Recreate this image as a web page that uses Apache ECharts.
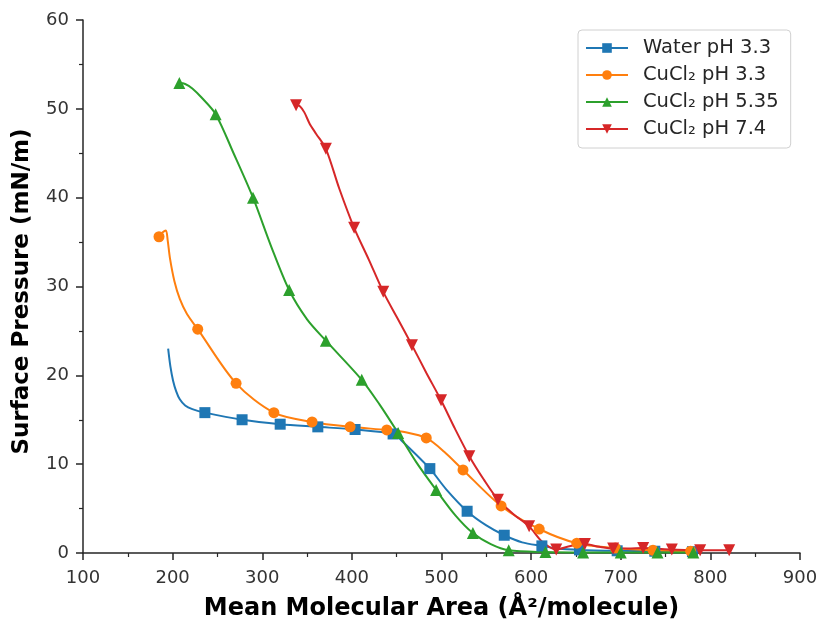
<!DOCTYPE html>
<html>
<head>
<meta charset="utf-8">
<script src="https://cdn.jsdelivr.net/npm/echarts@6/dist/echarts.min.js"></script>
<style>
  html, body { margin: 0; padding: 0; background: #fff; }
  #chart { width: 823px; height: 622px; }
</style>
</head>
<body>
<div id="chart"></div>
<script>
// curve points (no marker) and marker points
const waterLine = [[195, 23.0], [197.5, 21.0], [200.5, 19.4], [204, 18.2], [208, 17.3], [214, 16.6], [222, 16.2], [455, 12.7], [505, 7.2], [550, 3.1], [590, 1.2], [630, 0.5]];
const waterMarks = [[236, 15.8], [277.5, 15.0], [320, 14.5], [362, 14.2], [403.6, 13.9], [446, 13.4], [487, 9.5], [528.6, 4.7], [570, 2.0], [612, 0.8], [654, 0.35], [696, 0.25], [738, 0.2], [780, 0.15]];

const cuLowLine = [[189, 36.1], [192.5, 36.3], [194.5, 35.2], [197, 33.2], [202, 30.6], [208, 28.6], [216, 26.9], [460, 13.6], [503, 11.4]];
const cuLowMarks = [[184.8, 35.6], [228, 25.2], [270.8, 19.1], [313, 15.8], [355.6, 14.75], [398, 14.2], [439, 13.85], [483, 12.95], [524, 9.35], [566.5, 5.3], [609, 2.7], [651, 1.1], [694, 0.56], [736, 0.3], [778, 0.2]];

const cuMidLine = [[214, 52.8], [222, 52.3], [232, 51.3], [268, 45.0], [310, 34.5], [350, 26.3], [431, 16.7], [472, 10.2], [515, 4.3], [555, 1.0]];
const cuMidMarks = [[207.5, 52.9], [248, 49.4], [289.7, 40.0], [330, 29.6], [371, 23.9], [411, 19.5], [451.6, 13.5], [494, 7.1], [535, 2.25], [575, 0.3], [616, 0.1], [658, 0.05], [700, 0.05], [741, 0.05], [781, 0.05]];

const cuHighLine = [[342, 50.3], [347, 49.6], [353, 48.3], [360, 47.2], [386, 41.0], [419, 33.0], [451, 26.4], [483, 20.3], [515, 14.0], [547, 8.3], [580, 4.4], [612, 1.3], [644, 0.8], [676, 0.7], [708, 0.5]];
const cuHighMarks = [[337.7, 50.4], [371, 45.5], [402.5, 36.6], [435, 29.4], [467, 23.4], [499.5, 17.2], [531, 10.9], [563, 6.0], [597.8, 3.0], [628, 0.4], [660, 1.0], [691.5, 0.5], [725, 0.55], [757, 0.4], [788.6, 0.3], [821, 0.3]];

const xTicks = { min: 100, max: 900, interval: 100 };
const yTicks = { min: 0, max: 60, interval: 10 };

function buildData(line, marks) {
  const pts = line.map(p => ({ value: p, symbol: 'none' }))
    .concat(marks.map(p => ({ value: p })));
  pts.sort((a, b) => a.value[0] - b.value[0]);
  return pts;
}

function makeSeries(name, color, symbol, size, line, marks) {
  return {
    name: name,
    type: 'line',
    smooth: 0.3,
    symbol: symbol,
    symbolSize: size,
    showSymbol: true,
    itemStyle: { color: color },
    lineStyle: { color: color, width: 2 },
    emphasis: { disabled: true },
    data: buildData(line, marks)
  };
}

const axisColor = '#262626';
const font = 'DejaVu Sans';

const chart = echarts.init(document.getElementById('chart'));
chart.setOption({
  animation: false,
  backgroundColor: '#fff',
  grid: { left: 83, right: 23, top: 20, bottom: 69, outerBoundsMode: 'none' },
  legend: {
    left: 578,
    top: 30,
    orient: 'vertical',
    itemWidth: 42,
    itemHeight: 12,
    itemGap: 7,
    padding: [8, 12, 9, 7],
    backgroundColor: '#fff',
    borderColor: '#d0d0d0',
    borderWidth: 1,
    borderRadius: 4,
    textStyle: { fontFamily: font, fontSize: 19.5, color: '#262626', padding: [0, 0, 0, 10] },
    data: ['Water pH 3.3', 'CuCl₂ pH 3.3', 'CuCl₂ pH 5.35', 'CuCl₂ pH 7.4']
  },
  xAxis: {
    type: 'value',
    min: xTicks.min,
    max: xTicks.max,
    interval: xTicks.interval,
    name: 'Mean Molecular Area (Å²/molecule)',
    nameLocation: 'middle',
    nameGap: 44,
    nameTextStyle: { fontFamily: font, fontSize: 24, fontWeight: 'bold', color: '#000' },
    axisLine: { lineStyle: { color: axisColor, width: 1.5 } },
    axisTick: { length: 7, lineStyle: { color: axisColor, width: 1.5 } },
    minorTick: { show: true, splitNumber: 2, length: 4, lineStyle: { color: axisColor, width: 1.2 } },
    axisLabel: { fontFamily: font, fontSize: 18, color: '#333', margin: 16 },
    splitLine: { show: false }
  },
  yAxis: {
    type: 'value',
    min: yTicks.min,
    max: yTicks.max,
    interval: yTicks.interval,
    name: 'Surface Pressure (mN/m)',
    nameLocation: 'middle',
    nameGap: 49,
    nameTextStyle: { fontFamily: font, fontSize: 23, fontWeight: 'bold', color: '#000', padding: [0, 10, 0, 0] },
    axisLine: { show: true, lineStyle: { color: axisColor, width: 1.5 } },
    axisTick: { show: true, length: 7, lineStyle: { color: axisColor, width: 1.5 } },
    minorTick: { show: true, splitNumber: 2, length: 4, lineStyle: { color: axisColor, width: 1.2 } },
    axisLabel: { fontFamily: font, fontSize: 18, color: '#333', margin: 14 },
    splitLine: { show: false }
  },
  series: [
    makeSeries('Water pH 3.3', '#1f77b4', 'rect', 11, waterLine, waterMarks),
    makeSeries('CuCl₂ pH 3.3', '#ff7f0e', 'circle', 11, cuLowLine, cuLowMarks),
    makeSeries('CuCl₂ pH 5.35', '#2ca02c', 'triangle', 12, cuMidLine, cuMidMarks),
    makeSeries('CuCl₂ pH 7.4', '#d62728', 'path://M0,0 L10,0 L5,10 Z', 12, cuHighLine, cuHighMarks)
  ]
});
</script>
</body>
</html>
